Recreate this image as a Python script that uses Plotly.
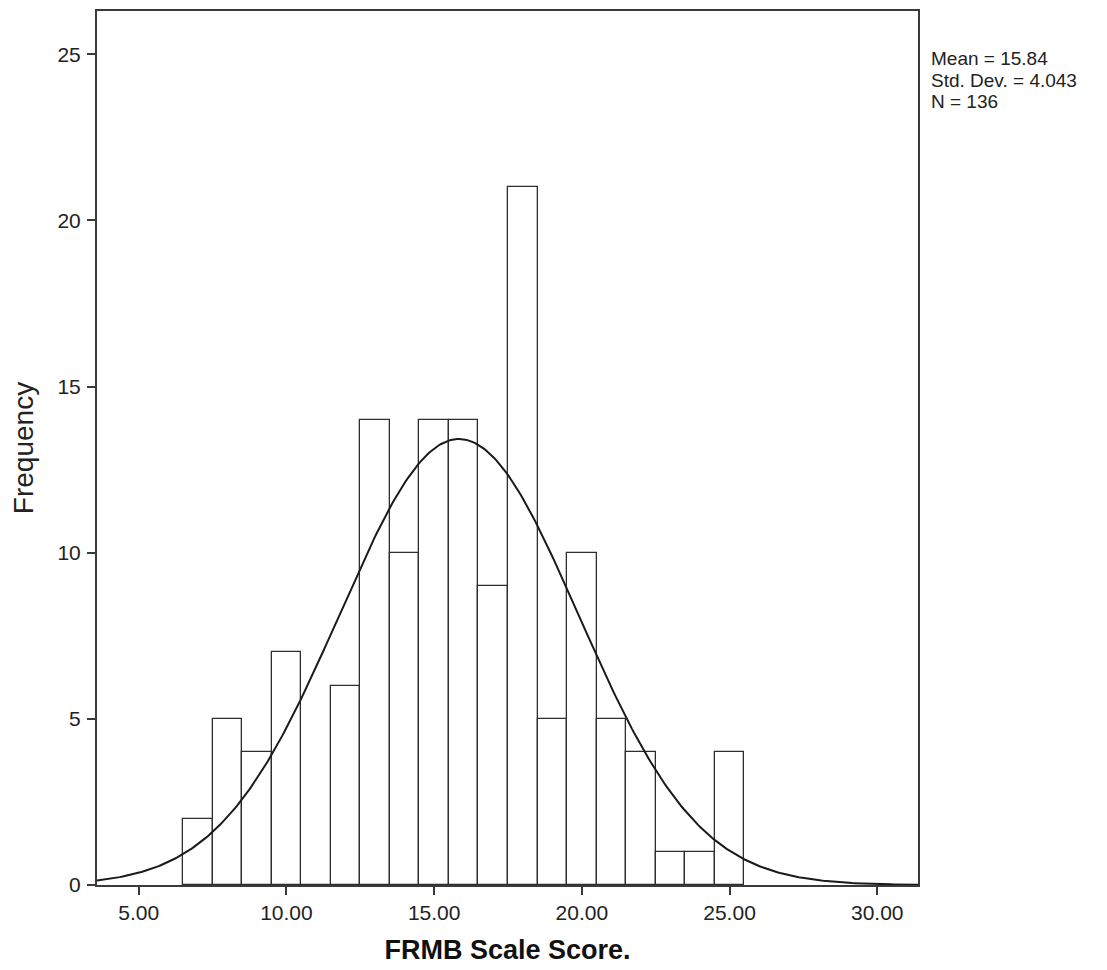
import numpy as np
import plotly.graph_objects as go

# ---- data ----
bin_centers = [7, 8, 9, 10, 11, 12, 13, 14, 15, 16, 17, 18, 19, 20, 21, 22, 23, 24, 25]
frequencies = [2, 5, 4, 7, 0, 6, 14, 10, 14, 14, 9, 21, 5, 10, 5, 4, 1, 1, 4]
bin_width = 1.0

mean_val = 15.84
std_val = 4.043
n_val = 136

x_tick_vals = [5, 10, 15, 20, 25, 30]
x_tick_text = ["5.00", "10.00", "15.00", "20.00", "25.00", "30.00"]
y_tick_vals = [0, 5, 10, 15, 20, 25]
y_tick_text = ["0", "5", "10", "15", "20", "25"]

stats_lines = ["Mean = 15.84", "Std. Dev. = 4.043", "N = 136"]

x_range = [3.586, 31.38]
y_range = [0, 26.3]

FONT = "Liberation Sans, Arial, sans-serif"
EDGE = "#2e2e2e"
FRAME = "#3a3a3a"

# normal curve fitted with the displayed statistics
curve_x = np.linspace(x_range[0], x_range[1], 400)
curve_y = n_val * bin_width * np.exp(-0.5 * ((curve_x - mean_val) / std_val) ** 2) / (std_val * np.sqrt(2 * np.pi))

fig = go.Figure()
fig.add_trace(go.Bar(
    x=bin_centers, y=frequencies, width=bin_width,
    marker=dict(color="white", line=dict(color=EDGE, width=1.3)),
    showlegend=False,
))
fig.add_trace(go.Scatter(
    x=curve_x, y=curve_y, mode="lines",
    line=dict(color="#1a1a1a", width=2),
    showlegend=False,
))

axis_common = dict(
    showline=True, mirror=True, linecolor=FRAME, linewidth=2,
    ticks="outside", ticklen=8, tickwidth=2, tickcolor=FRAME,
    showgrid=False, zeroline=False,
    tickfont=dict(family=FONT, size=21, color="#222222"),
)

fig.update_layout(
    width=1099, height=962,
    margin=dict(l=89, r=189, t=1, b=85),
    paper_bgcolor="white", plot_bgcolor="white",
    bargap=0,
    xaxis=dict(range=x_range, tickvals=x_tick_vals, ticktext=x_tick_text,
               title=dict(text="<b>FRMB Scale Score.</b>", standoff=17,
                          font=dict(family=FONT, size=27, color="#111111")),
               **axis_common),
    yaxis=dict(range=y_range, tickvals=y_tick_vals, ticktext=y_tick_text,
               ticklabelstandoff=2,
               title=dict(text="Frequency", standoff=18,
                          font=dict(family=FONT, size=28, color="#222222")),
               **axis_common),
)

line_y = [0.9453, 0.9210, 0.8967]
for txt, yy in zip(stats_lines, line_y):
    fig.add_annotation(
        text=txt, xref="paper", yref="paper", x=1.014, y=yy,
        xanchor="left", yanchor="middle", showarrow=False,
        font=dict(family=FONT, size=19, color="#222222"),
    )

fig.write_html("out.html")
